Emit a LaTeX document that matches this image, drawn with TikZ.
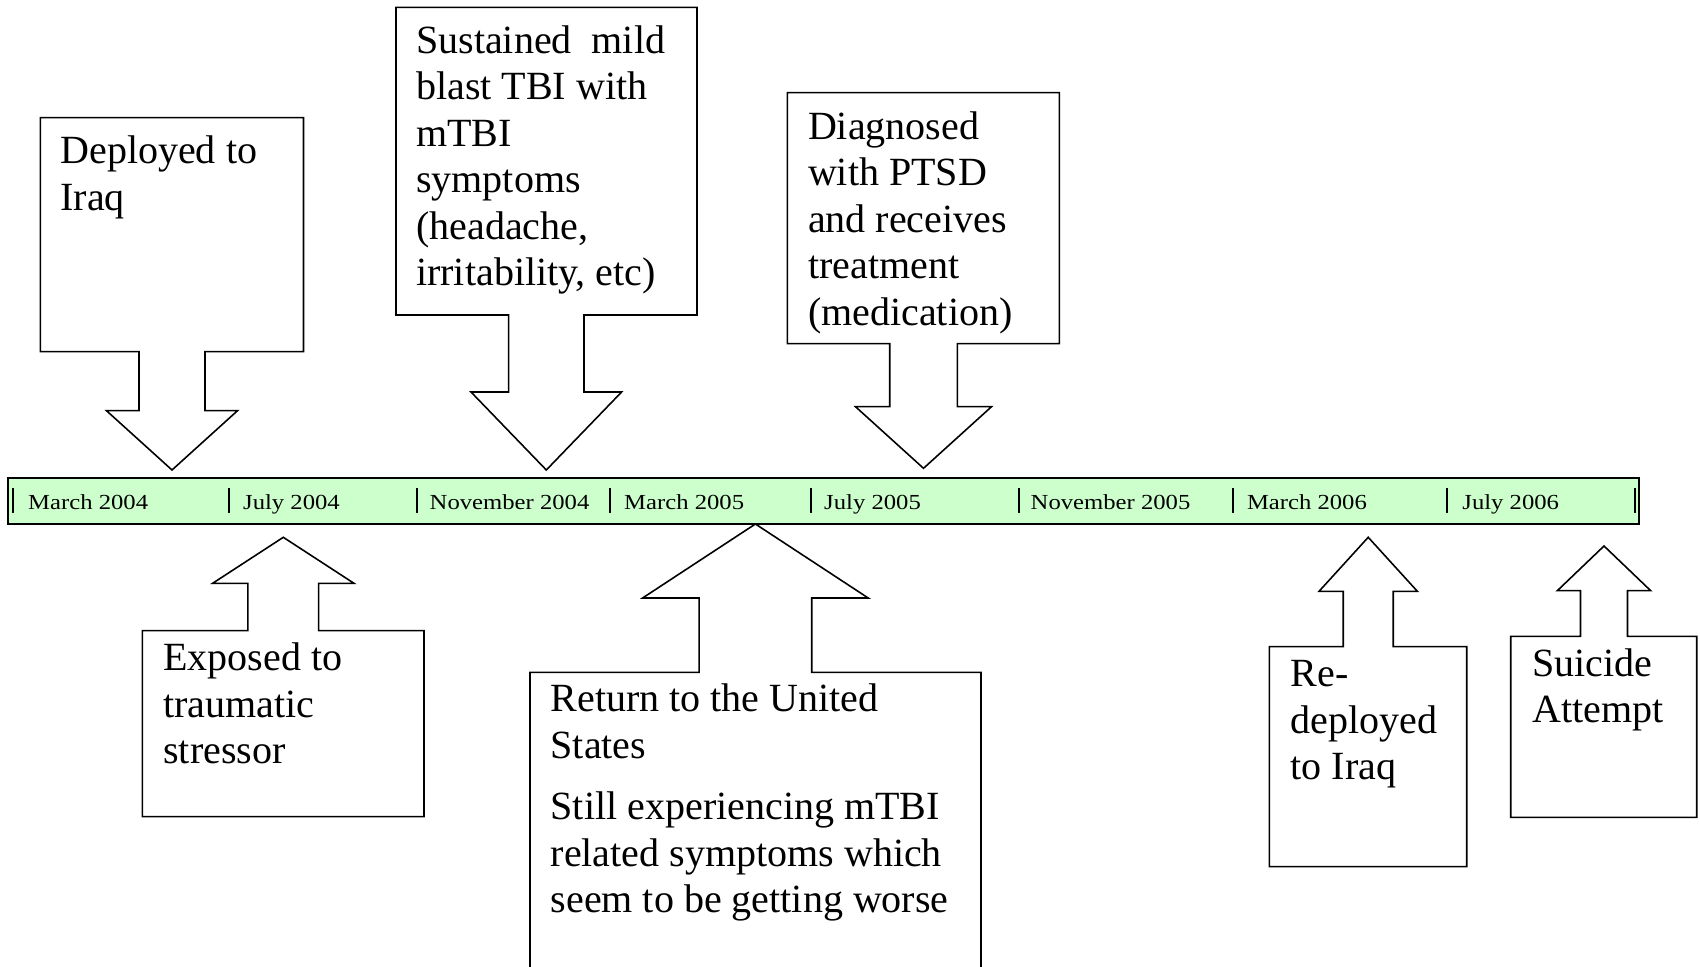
\documentclass[tikz,border=0pt]{standalone}
\usepackage{fontspec}
\setmainfont{Liberation Serif}
\newfontfamily\datefont[FakeStretch=1.15]{Liberation Serif}

\definecolor{barfill}{HTML}{CCFFCC}

\tikzset{
  callout/.style={draw=black, line width=0.45pt, fill=white, line join=miter},
  evtext/.style={anchor=base west, inner sep=0pt, font=\fontsize{11.38}{13.23}\selectfont},
  datelabel/.style={anchor=base west, inner sep=0pt, font=\datefont\fontsize{6.1}{7}\selectfont},
  datetick/.style={draw=black, line width=0.6pt},
  timebar/.style={draw=black, line width=0.6pt, fill=barfill, rectangle, inner sep=0pt,
    minimum width=16.298cm, minimum height=0.457cm}
}

% multi-line event text, baseline at the first line
\newcommand\evlines[1]{\parbox[t]{9cm}{#1}}

% event box whose arrow points down from its bottom edge
% #1 left  #2 right  #3 top  #4 bottom  #5 tip x  #6 tip y
% #7 shaft half width  #8 head half width  #9 y of the head base
\newcommand\downcallout[9]{%
  \draw[callout] (#1,#3) -- (#2,#3) -- (#2,#4) -- ({#5+#7},#4) -- ({#5+#7},#9)
    -- ({#5+#8},#9) -- (#5,#6) -- ({#5-#8},#9) -- ({#5-#7},#9) -- ({#5-#7},#4)
    -- (#1,#4) -- cycle;}

% event box whose arrow points up from its top edge
\newcommand\upcallout[9]{%
  \draw[callout] (#1,#3) -- ({#5-#7},#3) -- ({#5-#7},#9) -- ({#5-#8},#9) -- (#5,#6)
    -- ({#5+#8},#9) -- ({#5+#7},#9) -- ({#5+#7},#3) -- (#2,#3) -- (#2,#4)
    -- (#1,#4) -- cycle;}

\begin{document}
\begin{tikzpicture}[x=0.01cm, y=-0.01cm]
\useasboundingbox (0,0) rectangle (1700,967);
\clip (0,0) rectangle (1700,967);

% ---- timeline bar ----
\node[timebar] (bar) at (823.6,500.85) {};
\foreach \tx in {13.3,228.7,416.7,610,810.7,1019,1232.7,1447.3,1635}
  \draw[datetick] (\tx,488) -- (\tx,513);

\node[datelabel] (d1) at (27.5,509.7)   {March 2004};
\node[datelabel] (d2) at (242.5,509.7)  {July 2004};
\node[datelabel] (d3) at (429,509.7)    {November 2004};
\node[datelabel] (d4) at (623.5,509.7)  {March 2005};
\node[datelabel] (d5) at (823.5,509.7)  {July 2005};
\node[datelabel] (d6) at (1030,509.7)   {November 2005};
\node[datelabel] (d7) at (1246.3,509.7) {March 2006};
\node[datelabel] (d8) at (1461.7,509.7) {July 2006};

% ---- events above the timeline ----
\downcallout{40.4}{303.5}{117.7}{351.7}{172}{470}{33}{65.5}{410.7}
\node[evtext] (deployed) at (59.7,164) {\evlines{Deployed to\\Iraq}};

\downcallout{396}{697}{7.3}{315}{546.3}{470}{37.7}{75.3}{392}
\node[evtext] (blast) at (415.5,53.3)
  {\evlines{Sustained\ \ mild\\blast TBI with\\mTBI\\symptoms\\(headache,\\irritability, etc)}};

\downcallout{787.3}{1059.3}{92.7}{343.7}{923.5}{468.3}{33.8}{68}{406.7}
\node[evtext] (ptsd) at (807.3,139.3)
  {\evlines{Diagnosed\\with PTSD\\and receives\\treatment\\(medication)}};

% ---- events below the timeline ----
\upcallout{142.3}{424}{630.7}{816.7}{283.3}{537.3}{35.35}{70.65}{583.3}
\node[evtext] (stressor) at (162.7,670.7) {\evlines{Exposed to\\traumatic\\stressor}};

\upcallout{530}{981}{672.3}{1010}{755.4}{524}{56.35}{112.8}{598}
\node[evtext] (return) at (550,711.7)
  {\evlines{Return to the United\\States\\[4.3pt]Still experiencing mTBI\\related symptoms which\\seem to be getting worse}};

\upcallout{1269.3}{1466.7}{646.7}{866.7}{1368.2}{537.3}{25}{49.15}{591.3}
\node[evtext] (redeploy) at (1290,686.7) {\evlines{Re-\\deployed\\to Iraq}};

\upcallout{1510.7}{1696.7}{636.3}{817.3}{1604}{546}{23.5}{46.7}{590.7}
\node[evtext] (suicide) at (1531.7,676) {\evlines{Suicide\\Attempt}};
\end{tikzpicture}
\end{document}
